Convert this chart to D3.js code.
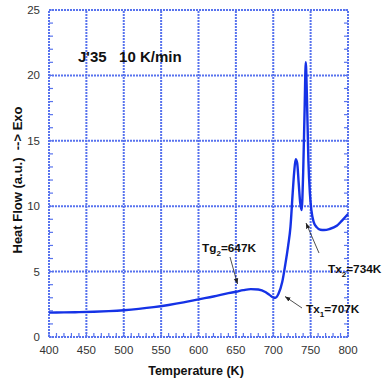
<!DOCTYPE html>
<html>
<head>
<meta charset="utf-8">
<style>
    body { margin: 0; background: #fff; }
    svg { font-family: 'Liberation Sans', Arial, sans-serif; }
    .tick-label { font-size: 11.5px; fill: #333; }
    .axis-title { font-size: 12.5px; font-weight: bold; fill: #111; }
    .note { font-size: 11.8px; font-weight: bold; fill: #111; }
    .grid line { stroke: #5873ee; stroke-width: 2; stroke-dasharray: 2 1; fill: none; }
</style>
</head>
<body>
<svg width="382" height="385"></svg>
<script src="https://d3js.org/d3.v7.min.js"></script>
<script>
    // DSC trace
    let temps = [400, 420, 440, 460, 480, 500, 520, 540, 560, 580, 600, 620, 640, 650, 660, 670, 680, 690, 695, 700, 703, 707, 712, 716, 720, 723, 726, 728, 730, 732, 734, 736, 738, 740, 742, 743.5, 745, 747, 749, 751, 754, 758, 763, 768, 775, 785, 792, 800]
    let heatFlow = [1.86, 1.88, 1.9, 1.93, 1.98, 2.05, 2.15, 2.28, 2.45, 2.65, 2.88, 3.1, 3.35, 3.46, 3.58, 3.66, 3.63, 3.42, 3.22, 3.02, 3.0, 3.3, 4.2, 5.5, 7.0, 8.4, 11, 12.6, 13.6, 13.3, 11.8, 10.3, 9.7, 12.5, 17.5, 21.0, 18.5, 13.5, 11, 9.7, 8.8, 8.4, 8.2, 8.18, 8.25, 8.5, 8.9, 9.4]

    let xTicks = [400, 450, 500, 550, 600, 650, 700, 750, 800]
    let yTicks = [0, 5, 10, 15, 20, 25]

    let svg = d3.select("svg")

    let x = d3.scaleLinear().domain([400, 800]).range([49, 348])
    let y = d3.scaleLinear().domain([0, 25]).range([337, 10])

    // minor ticks, inward
    let minorY = d3.range(0, 26, 1)
    let minorX = d3.range(400, 801, 10)
    let ticks = svg.append("g").attr("stroke", "#5873ee").attr("stroke-width", 1.2)
    ticks.selectAll(".ly").data(minorY).join("line")
        .attr("x1", x(400)).attr("x2", x(400) + 4)
        .attr("y1", d => y(d)).attr("y2", d => y(d))
    ticks.selectAll(".ry").data(minorY).join("line")
        .attr("x1", x(800)).attr("x2", x(800) - 4)
        .attr("y1", d => y(d)).attr("y2", d => y(d))
    ticks.selectAll(".bx").data(minorX).join("line")
        .attr("x1", d => x(d)).attr("x2", d => x(d))
        .attr("y1", y(0)).attr("y2", y(0) - 4)

    // dotted grid + frame
    let grid = svg.append("g").attr("class", "grid")
    grid.selectAll(".gx").data(xTicks).join("line")
        .attr("x1", d => x(d)).attr("x2", d => x(d))
        .attr("y1", y(0)).attr("y2", y(25))
    grid.selectAll(".gy").data(yTicks).join("line")
        .attr("x1", x(400)).attr("x2", x(800))
        .attr("y1", d => y(d)).attr("y2", d => y(d))

    // tick labels
    svg.append("g").selectAll("text").data(xTicks).join("text")
        .attr("class", "tick-label")
        .attr("x", d => x(d)).attr("y", 354)
        .attr("text-anchor", "middle")
        .text(d => d)
    svg.append("g").selectAll("text").data(yTicks).join("text")
        .attr("class", "tick-label")
        .attr("x", 40).attr("y", d => y(d) + 4)
        .attr("text-anchor", "end")
        .text(d => d)

    // curve
    let line = d3.line()
        .x((d, i) => x(temps[i]))
        .y(d => y(d))
        .curve(d3.curveMonotoneX)
    svg.append("path")
        .datum(heatFlow)
        .attr("d", line)
        .attr("fill", "none")
        .attr("stroke", "#1532e6")
        .attr("stroke-width", 2.4)

    // axis titles
    svg.append("text").attr("class", "axis-title")
        .attr("x", 196).attr("y", 375)
        .attr("text-anchor", "middle")
        .text("Temperature (K)")
    svg.append("text").attr("class", "axis-title")
        .attr("transform", "translate(22,180) rotate(-90)")
        .attr("text-anchor", "middle")
        .style("font-size", "13px")
        .attr("xml:space", "preserve")
        .text("Heat Flow (a.u.)  --> Exo")

    svg.append("text")
        .attr("x", 78).attr("y", 62)
        .style("font-size", "15px").style("font-weight", "bold").style("fill", "#111")
        .attr("xml:space", "preserve")
        .text("J'35   10 K/min")

    // annotations
    svg.append("defs").append("marker")
        .attr("id", "ah").attr("viewBox", "0 0 10 10")
        .attr("refX", 10).attr("refY", 5)
        .attr("markerWidth", 7).attr("markerHeight", 7)
        .attr("orient", "auto")
        .append("path").attr("d", "M0,1 L10,5 L0,9 Z").attr("fill", "#222")

    function note(tx, ty, main, sub, rest, ax1, ay1, ax2, ay2) {
        let t = svg.append("text").attr("class", "note").attr("x", tx).attr("y", ty)
        t.append("tspan").text(main)
        t.append("tspan").attr("dy", 4).style("font-size", "8px").text(sub)
        t.append("tspan").attr("dy", -4).text(rest)
        svg.append("line")
            .attr("x1", ax1).attr("y1", ay1).attr("x2", ax2).attr("y2", ay2)
            .attr("stroke", "#222").attr("stroke-width", 0.8)
            .attr("marker-end", "url(#ah)")
    }

    note(202, 252, "Tg", "2", "=647K", 230, 257, 237.5, 284)
    note(306, 313, "Tx", "1", "=707K", 302, 308, 285, 296.5)
    note(328, 273, "Tx", "2", "=734K", 319, 253, 306, 223)
</script>
</body>
</html>
